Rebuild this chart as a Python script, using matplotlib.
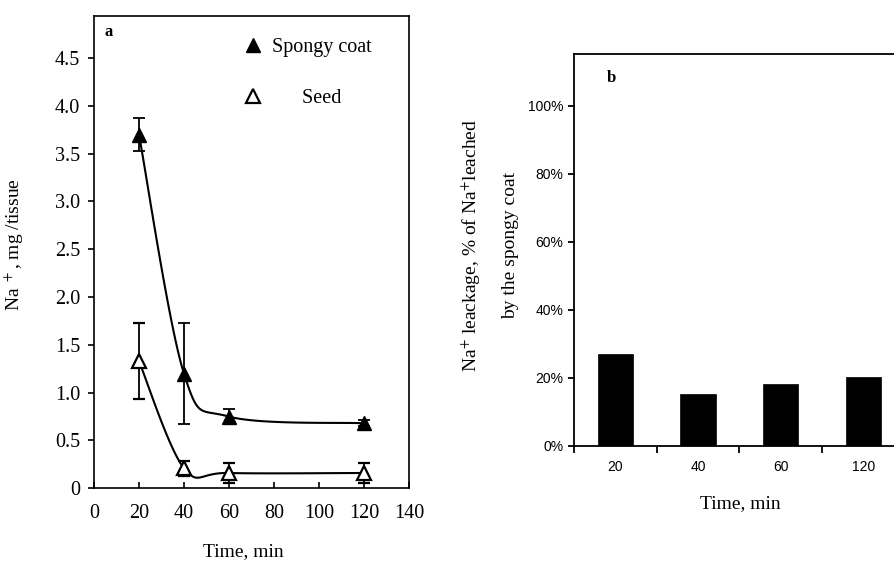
import numpy as np
import matplotlib
matplotlib.use("Agg")
import matplotlib.pyplot as plt
from matplotlib.lines import Line2D
from matplotlib.ticker import PercentFormatter, FuncFormatter

plt.rcParams['font.family'] = ['Liberation Serif', 'DejaVu Serif']
plt.rcParams['mathtext.fontset'] = 'stix'

# panel a data: Na+ content (mg / tissue) over time
time_min = [20, 40, 60, 120]
spongy = [3.70, 1.20, 0.75, 0.68]
spongy_err = [0.17, 0.53, 0.08, 0.03]
seed = [1.33, 0.21, 0.16, 0.16]
seed_err = [0.40, 0.08, 0.10, 0.10]

# panel b data: leakage as share of Na+ leached by spongy coat
bar_labels = ['20', '40', '60', '120']
leakage = [0.27, 0.153, 0.182, 0.202]


def smooth_curve(x, y, sx, sy, n=40):
    """Catmull-Rom style smoothing (like Excel smoothed lines), in screen-scaled units"""
    px = np.asarray(x, float) * sx
    py = np.asarray(y, float) * sy
    pts = np.column_stack([px, py])
    pts = np.vstack([pts[0], pts, pts[-1]])
    out = []
    for i in range(1, len(pts) - 2):
        p0, p1, p2, p3 = pts[i - 1], pts[i], pts[i + 1], pts[i + 2]
        c1 = p1 + (p2 - p0) / 6.0
        c2 = p2 - (p3 - p1) / 6.0
        t = np.linspace(0, 1, n)[:, None]
        seg = ((1 - t) ** 3) * p1 + 3 * ((1 - t) ** 2) * t * c1 + 3 * (1 - t) * t ** 2 * c2 + t ** 3 * p2
        out.append(seg)
    out = np.vstack(out)
    return out[:, 0] / sx, out[:, 1] / sy


fig = plt.figure(figsize=(8.94, 5.61), dpi=100)

# ---- panel a ----
ax = fig.add_axes([0.1051, 0.1296, 0.3523, 0.842])
ax.set_xlim(0, 140)
ax.set_ylim(0, 4.94)
sx = 315 / 140.0
sy = 95.7

xs, ys = smooth_curve(time_min, spongy, sx, sy)
ax.plot(xs, ys, color='black', lw=1.5)
xs, ys = smooth_curve(time_min, seed, sx, sy)
ax.plot(xs, ys, color='black', lw=1.5)

ax.errorbar(time_min, spongy, yerr=spongy_err, fmt='^', color='black', ms=10,
            mfc='black', mec='black', ecolor='black', elinewidth=1.3, capsize=4, capthick=1.3)
ax.errorbar(time_min, seed, yerr=seed_err, fmt='^', color='black', ms=10,
            mfc='white', mec='black', mew=1.6, ecolor='black', elinewidth=1.3, capsize=4, capthick=1.3)

ax.set_xticks(np.arange(0, 141, 20))
ax.set_yticks(np.arange(0, 4.6, 0.5))
ax.yaxis.set_major_formatter(FuncFormatter(lambda v, p: '0' if v == 0 else '%.1f' % v))
ax.tick_params(axis='y', direction='out', length=4, width=1.2, pad=6, labelsize=14.5)
ax.tick_params(axis='x', direction='in', length=4, width=1.2, pad=11, labelsize=14.5)
for s in ax.spines.values():
    s.set_linewidth(1.2)

ax.set_ylabel('Na $^+$, mg /tissue', fontsize=14)
ax.yaxis.set_label_coords(-0.215, 0.515)
ax.set_xlabel('Time, min', fontsize=14)
ax.xaxis.set_label_coords(0.473, -0.116)
ax.xaxis.label.set_va('top')

ax.text(0.035, 0.966, 'a', transform=ax.transAxes, fontsize=12, fontweight='bold', va='center')

handles = [Line2D([], [], marker='^', ls='none', color='black', ms=10),
           Line2D([], [], marker='^', ls='none', mfc='white', mec='black', mew=1.6, ms=10)]
ax.legend(handles, ['Spongy coat', '      Seed'], loc='upper left', bbox_to_anchor=(0.44, 0.975),
          frameon=False, fontsize=14.5, handlelength=1.0, handletextpad=0.45, labelspacing=1.6,
          borderpad=0)

# ---- panel b ----
bx = fig.add_axes([0.642, 0.2055, 0.37, 0.6988])
pos = np.arange(len(leakage))
bx.bar(pos, leakage, width=0.43, color='black', edgecolor='black', lw=0.5)
bx.set_xlim(-0.5, len(leakage) - 0.5)
bx.set_ylim(0, 1.153)
bx.set_yticks(np.arange(0, 1.01, 0.2))
bx.yaxis.set_major_formatter(PercentFormatter(1.0, decimals=0))
bx.set_xticks(pos)
bx.set_xticklabels(bar_labels)
bx.set_xticks(np.arange(-0.5, len(leakage), 1.0), minor=True)
bx.tick_params(axis='x', which='major', length=0, pad=10, labelsize=10)
bx.tick_params(axis='x', which='minor', direction='out', length=5, width=1.3)
bx.tick_params(axis='y', direction='out', length=4.5, width=1.3, pad=3, labelsize=10)
for lab in bx.get_xticklabels() + bx.get_yticklabels():
    lab.set_family(['Liberation Sans', 'DejaVu Sans'])
for s in bx.spines.values():
    s.set_linewidth(1.3)

bx.set_ylabel('Na$^{+}$ leackage, % of Na$^{+}$leached\nby the spongy coat', fontsize=14,
              linespacing=2.5)
bx.yaxis.set_label_coords(-0.165, 0.51)
bx.set_xlabel('Time, min', fontsize=14)
bx.xaxis.set_label_coords(0.502, -0.126)
bx.xaxis.label.set_va('top')

bx.text(0.10, 0.938, 'b', transform=bx.transAxes, fontsize=12, fontweight='bold', va='center')

fig.savefig('out.png', dpi=100)
